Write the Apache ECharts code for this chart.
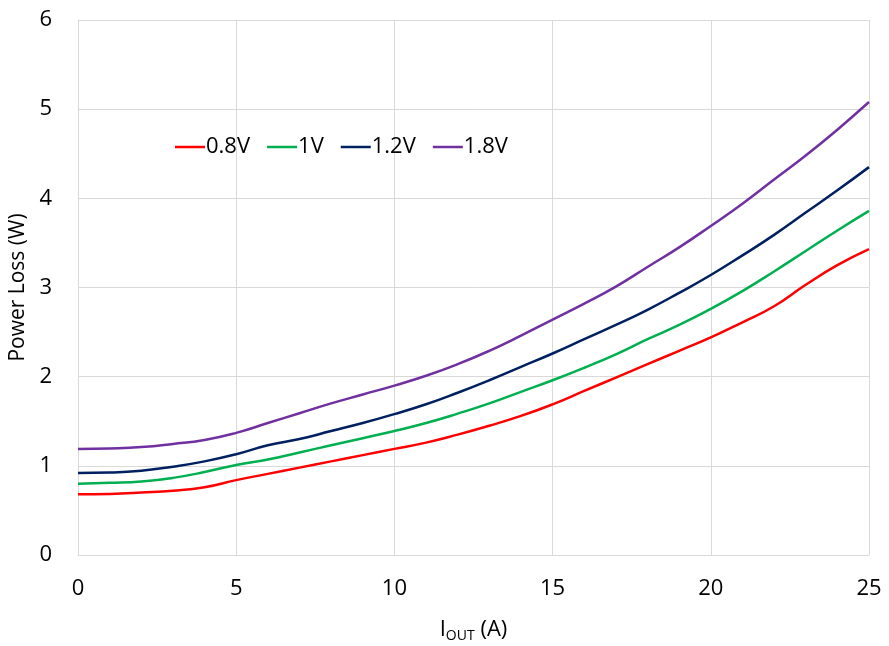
<!DOCTYPE html>
<html>
<head>
<meta charset="utf-8">
<script src="https://cdn.jsdelivr.net/npm/echarts@6/dist/echarts.min.js"></script>
<style>
  html, body { margin: 0; padding: 0; background: #fff; }
  #chart { width: 889px; height: 646px; }
</style>
</head>
<body>
<div id="chart"></div>
<script>
// output current (A)
const iout = [0, 1, 2, 3, 4, 5, 6, 7, 8, 9, 10, 11, 12, 13, 14, 15, 16, 17, 18, 19, 20, 21, 22, 23, 24, 25];

// power loss (W) per output voltage
const loss08 = [0.68, 0.685, 0.70, 0.72, 0.76, 0.84, 0.91, 0.98, 1.05, 1.12, 1.19, 1.26, 1.35, 1.45, 1.56, 1.69, 1.84, 1.99, 2.14, 2.29, 2.44, 2.61, 2.79, 3.03, 3.25, 3.43];
const loss10 = [0.80, 0.81, 0.825, 0.865, 0.93, 1.01, 1.07, 1.15, 1.23, 1.31, 1.39, 1.48, 1.585, 1.70, 1.83, 1.96, 2.10, 2.25, 2.42, 2.58, 2.76, 2.96, 3.18, 3.41, 3.64, 3.86];
const loss12 = [0.92, 0.925, 0.945, 0.99, 1.05, 1.13, 1.23, 1.30, 1.39, 1.48, 1.58, 1.69, 1.82, 1.96, 2.11, 2.26, 2.42, 2.58, 2.75, 2.94, 3.14, 3.36, 3.59, 3.84, 4.09, 4.35];
const loss18 = [1.19, 1.195, 1.21, 1.245, 1.29, 1.37, 1.48, 1.59, 1.70, 1.80, 1.90, 2.01, 2.14, 2.29, 2.46, 2.64, 2.82, 3.01, 3.23, 3.45, 3.69, 3.94, 4.21, 4.48, 4.77, 5.08];

const seriesNames = ['0.8V', '1V', '1.2V', '1.8V'];
const seriesColors = ['#ff0000', '#00b050', '#002060', '#7030a0'];
const seriesData = [loss08, loss10, loss12, loss18];

const font = '"Open Sans", "Liberation Sans", sans-serif';
const gridColor = '#d9d9d9';

const chart = echarts.init(document.getElementById('chart'));

const series = seriesData.map((vals, i) => ({
    name: seriesNames[i],
    type: 'line',
    data: vals.map((v, k) => [iout[k], v]),
    smooth: 0.5,
    showSymbol: false,
    lineStyle: { color: seriesColors[i], width: 2.5 },
    itemStyle: { color: seriesColors[i] }
}));

chart.setOption({
    animation: false,
    backgroundColor: '#fff',
    grid: { left: 78, right: 20, top: 20, bottom: 91, outerBoundsMode: 'none' },
    legend: {
        left: 170,
        top: 131,
        icon: 'rect',
        itemWidth: 30,
        itemHeight: 2.5,
        itemGap: 17,
        textStyle: { fontFamily: font, fontSize: 22, color: '#000', padding: [0, 0, 0, -4] },
        data: seriesNames
    },
    xAxis: {
        type: 'value',
        min: 0,
        max: 25,
        interval: 5,
        name: '{a|I}{s|OUT}{a| (A)}',
        nameLocation: 'middle',
        nameGap: 62,
        nameTextStyle: {
            rich: {
                a: { fontFamily: font, fontSize: 22, color: '#000' },
                s: { fontFamily: font, fontSize: 14, color: '#000', verticalAlign: 'bottom', padding: [12, 0, 0, 0] }
            }
        },
        axisLine: { show: true, lineStyle: { color: gridColor, width: 1 } },
        axisTick: { show: false },
        axisLabel: { fontFamily: font, fontSize: 22, color: '#000', margin: 23 },
        splitLine: { show: true, lineStyle: { color: gridColor, width: 1 } }
    },
    yAxis: {
        type: 'value',
        min: 0,
        max: 6,
        interval: 1,
        name: 'Power Loss (W)',
        nameLocation: 'middle',
        nameGap: 40,
        nameTextStyle: { fontFamily: font, fontSize: 21, color: '#000' },
        axisLine: { show: true, lineStyle: { color: gridColor, width: 1 } },
        axisTick: { show: false },
        axisLabel: { fontFamily: font, fontSize: 22, color: '#000', margin: 26 },
        splitLine: { show: true, lineStyle: { color: gridColor, width: 1 } }
    },
    series: series
});
</script>
</body>
</html>
